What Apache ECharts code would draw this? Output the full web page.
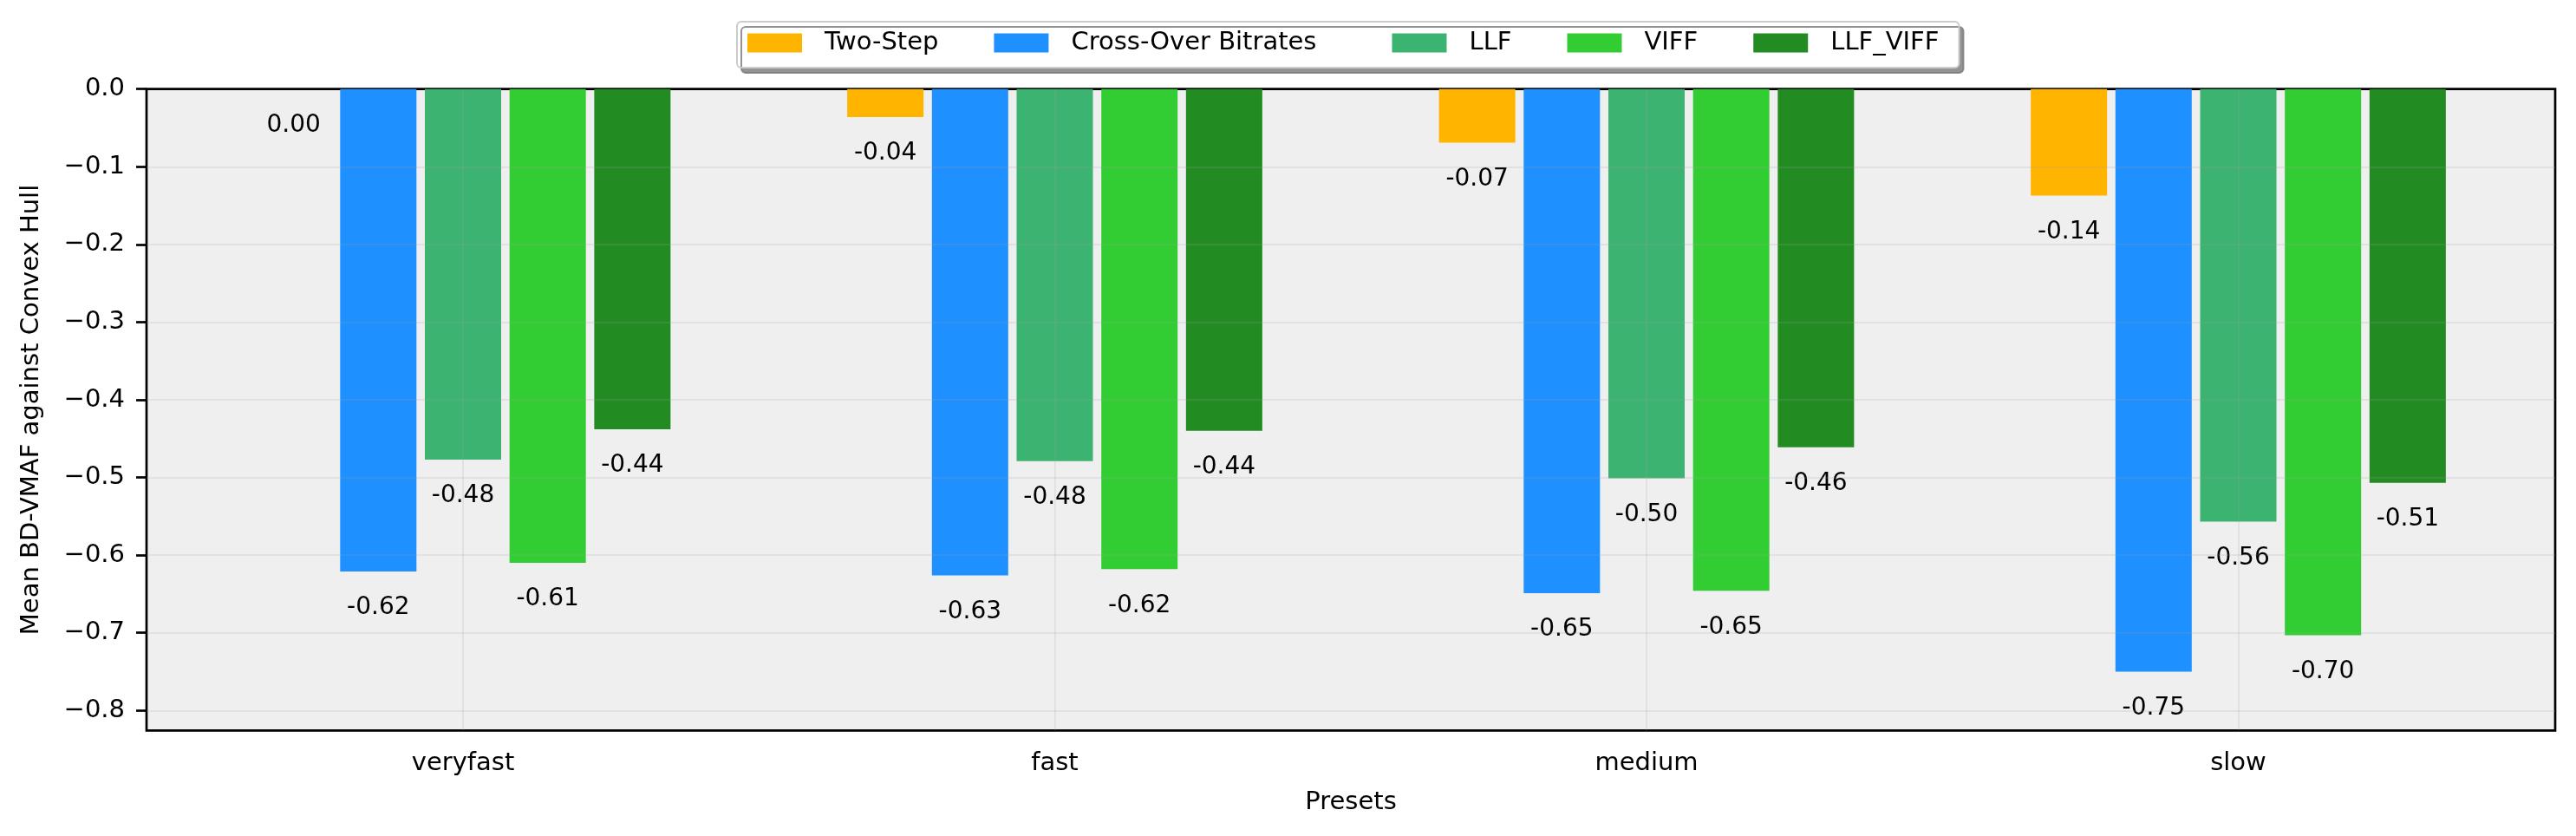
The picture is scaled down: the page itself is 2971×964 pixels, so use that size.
<!DOCTYPE html>
<html>
<head>
<meta charset="utf-8">
<script src="https://cdn.jsdelivr.net/npm/echarts@6/dist/echarts.min.js"></script>
<style>
html, body { margin: 0; padding: 0; background: #ffffff; }
#chart { width: 2971px; height: 964px; }
</style>
</head>
<body>
<div id="chart"></div>
<script>
const categories = ['veryfast', 'fast', 'medium', 'slow'];
const seriesNames = ['Two-Step', 'Cross-Over Bitrates', 'LLF', 'VIFF', 'LLF_VIFF'];
const seriesColors = ['#FFB400', '#1E90FF', '#3CB371', '#32CD32', '#228B22'];
const twoStep = [0, -0.036, -0.069, -0.137];
const crossOver = [-0.621, -0.626, -0.649, -0.750];
const llf = [-0.477, -0.479, -0.501, -0.557];
const viff = [-0.610, -0.618, -0.646, -0.703];
const llfViff = [-0.438, -0.440, -0.461, -0.507];
const yTicks = [0, -0.1, -0.2, -0.3, -0.4, -0.5, -0.6, -0.7, -0.8];
const yMin = -0.8257;
const yMax = 0;

const seriesValues = [twoStep, crossOver, llf, viff, llfViff];
const FONT = 'DejaVu Sans';
const gridLineStyle = { color: 'rgba(160,160,160,0.18)', width: 2, type: 'solid' };

const barSeries = seriesNames.map((name, i) => ({
  name: name,
  type: 'bar',
  xAxisIndex: 1,
  yAxisIndex: 1,
  data: seriesValues[i],
  barWidth: 88,
  barGap: '11%',
  itemStyle: { color: seriesColors[i] },
  label: {
    show: true,
    position: 'bottom',
    distance: 28,
    color: '#000',
    fontFamily: FONT,
    fontSize: 28,
    formatter: p => p.value.toFixed(2)
  },
  animation: false,
  z: 2
}));

const option = {
  backgroundColor: '#ffffff',
  animation: false,
  textStyle: { fontFamily: FONT },
  legend: {
    data: seriesNames,
    left: 850,
    top: 25,
    orient: 'horizontal',
    itemWidth: 63,
    itemHeight: 22,
    itemGap: 64,
    padding: [10, 23, 14, 12],
    backgroundColor: '#ffffff',
    borderColor: '#cccccc',
    borderWidth: 2,
    borderRadius: 5,
    shadowColor: 'rgba(120,120,120,0.8)',
    shadowBlur: 0,
    shadowOffsetX: 5,
    shadowOffsetY: 6,
    icon: 'rect',
    formatter: name => (name === 'Cross-Over Bitrates' ? '{w|' + name + '}' : name),
    textStyle: {
      fontFamily: FONT,
      fontSize: 29,
      color: '#000',
      lineHeight: 29,
      padding: [0, 0, 0, 21],
      rich: {
        w: { fontFamily: FONT, fontSize: 29, color: '#000', lineHeight: 29, padding: [0, 23, 0, 0] }
      }
    }
  },
  grid: [
    { left: 169, right: 24, top: 102.7, bottom: 121.7, show: true,
      backgroundColor: '#efefef', borderColor: '#000', borderWidth: 2.7 },
    { left: 192.75, right: 48.25, top: 102.7, bottom: 121.7 }
  ],
  xAxis: [
    { type: 'value', gridIndex: 0, min: 0, max: 1,
      axisLine: { show: false }, axisTick: { show: false },
      axisLabel: { show: false }, splitLine: { show: false },
      name: 'Presets', nameLocation: 'middle', nameGap: 69,
      nameTextStyle: { fontFamily: FONT, fontSize: 29, color: '#000' } },
    { type: 'category', gridIndex: 1, data: categories, boundaryGap: true,
      axisLine: { show: false },
      axisTick: { show: true, alignWithLabel: true, length: 12,
        lineStyle: { color: '#000', width: 2.7 } },
      axisLabel: { show: true, margin: 24, color: '#000', fontFamily: FONT, fontSize: 29 },
      splitLine: { show: false } }
  ],
  yAxis: [
    { type: 'value', gridIndex: 0, min: yMin, max: yMax,
      axisLine: { show: false },
      axisTick: { show: true, length: 12, customValues: yTicks,
        lineStyle: { color: '#000', width: 2.7 } },
      axisLabel: { show: true, margin: 25, color: '#000', fontFamily: FONT, fontSize: 29,
        customValues: yTicks,
        formatter: v => (Math.abs(v) < 1e-9 ? '0.0' : '\u2212' + Math.abs(v).toFixed(1)) },
      splitLine: { show: false },
      name: 'Mean BD-VMAF against Convex Hull', nameLocation: 'middle', nameGap: 118,
      nameTextStyle: { fontFamily: FONT, fontSize: 29, color: '#000' } },
    { type: 'value', gridIndex: 1, min: yMin, max: yMax, show: false,
      splitLine: { show: false } }
  ],
  series: barSeries.concat([
    {
      name: 'hgrid', type: 'line', xAxisIndex: 0, yAxisIndex: 0,
      data: [[0, 0], [1, 0]], showSymbol: false, symbol: 'none',
      lineStyle: { opacity: 0 }, silent: true, z: 10,
      markLine: {
        silent: true, symbol: ['none', 'none'], label: { show: false },
        lineStyle: gridLineStyle, animation: false,
        data: yTicks.filter(v => v !== 0).map(v => ({ yAxis: v }))
      }
    },
    {
      name: 'vgrid', type: 'line', xAxisIndex: 1, yAxisIndex: 1,
      data: categories.map(() => 0), showSymbol: false, symbol: 'none',
      lineStyle: { opacity: 0 }, silent: true, z: 10,
      markLine: {
        silent: true, symbol: ['none', 'none'], label: { show: false },
        lineStyle: gridLineStyle, animation: false,
        data: categories.map(c => ({ xAxis: c }))
      }
    }
  ])
};

const chart = echarts.init(document.getElementById('chart'), null, { renderer: 'canvas' });
chart.setOption(option);
</script>
</body>
</html>
